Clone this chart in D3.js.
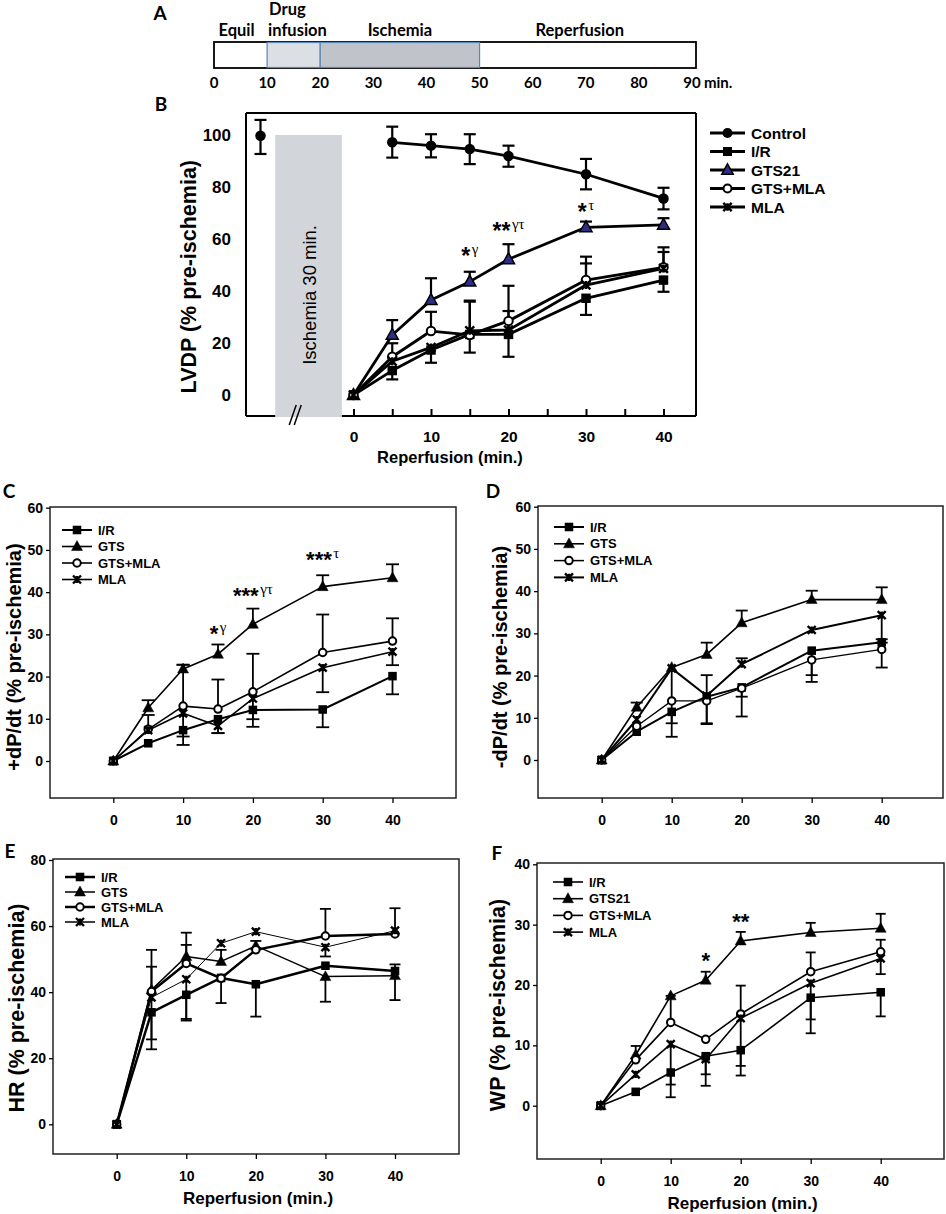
<!DOCTYPE html>
<html><head><meta charset="utf-8">
<script src="https://cdn.jsdelivr.net/npm/d3@7"></script>
<style>body{margin:0;background:#fff}svg{display:block}</style>
</head><body>
<svg id="fig" width="946" height="1214"></svg>
<script>
// ================= DATA =================
// Panel A : protocol timeline (minutes)
const timelineTicks = [0,10,20,30,40,50,60,70,80,90];
const phaseStart = [0,10,20,50];
const phaseEnd   = [10,20,50,90];

// common reperfusion times (min)
const times = [0,5,10,15,20,30,40];
const timesControl = [5,10,15,20,30,40];
const preTime = -12;            // pre-ischemic baseline point (left of break)
const ischemiaSpan = [-10.1,-1.5]; // shaded ischemia box on B's axis
const ischemiaTop = 100;

// Panel B : LVDP (% pre-ischemia)
const lvdpControlPre = [99.7], lvdpControlPreUp = [6.1], lvdpControlPreDn = [7.0];
const lvdpControl   = [97.2, 95.9, 94.6, 91.9, 84.9, 75.6];
const lvdpControlUp = [6.0, 4.4, 5.7, 4.0, 5.9, 4.1];
const lvdpControlDn = [5.9, 4.5, 5.8, 4.1, 5.8, 4.2];
const lvdpIR     = [0, 9.4, 17.3, 23.3, 23.3, 37.2, 44.2];
const lvdpIRUp   = [0, 0, 0, 0, 0, 0, 0];
const lvdpIRDn   = [0, 3.4, 4.9, 7.0, 8.6, 6.4, 4.5];
const lvdpGTS    = [0, 23.1, 36.5, 43.6, 52.2, 64.5, 65.4];
const lvdpGTSUp  = [0, 5.7, 8.4, 3.8, 5.8, 2.2, 2.6];
const lvdpGTSDn  = [0, 0, 0, 0, 0, 0, 0];
const lvdpGM     = [0, 14.7, 24.6, 23.1, 28.5, 44.2, 49.1];
const lvdpGMUp   = [0, 5.2, 7.4, 12.8, 13.5, 9.0, 7.7];
const lvdpGMDn   = [0, 0, 0, 0, 0, 0, 0];
const lvdpMLA    = [0, 13.0, 18.3, 24.7, 25.0, 42.3, 48.7];
const lvdpMLAUp  = [0, 0, 0, 11.6, 7.3, 8.3, 6.3];
const lvdpMLADn  = [0, 0, 0, 0, 0, 0, 0];
const lvdpNotes  = [{t:15, v:55, s:"*", g:"γ"}, {t:20, v:64.6, s:"**", g:"γτ"}, {t:30, v:71.9, s:"*", g:"τ"}];

// Panel C : +dP/dt
const pdIR    = [0, 4.2, 7.3, 9.9, 12.1, 12.2, 20.1];
const pdIRUp  = [0, 0, 0, 0, 0, 0, 0];
const pdIRDn  = [0, 0, 3.5, 3.3, 4.0, 4.2, 4.3];
const pdGTS   = [0, 12.6, 21.8, 25.3, 32.4, 41.3, 43.4];
const pdGTSUp = [0, 1.8, 1.0, 2.3, 3.7, 2.7, 3.2];
const pdGTSDn = [0, 0, 0, 0, 0, 0, 0];
const pdGM    = [0, 7.5, 13.0, 12.3, 16.4, 25.7, 28.4];
const pdGMUp  = [0, 3.4, 9.8, 7.0, 9.0, 9.0, 5.4];
const pdGMDn  = [0, 0, 0, 0, 0, 0, 0];
const pdMLA   = [0, 7.3, 11.3, 8.3, 14.8, 22.1, 25.9];
const pdMLAUp = [0, 0, 0, 0, 0, 0, 0];
const pdMLADn = [0, 0, 5.5, 1.7, 4.9, 5.8, 3.2];
const pdNotes = [{t:15, v:31, s:"*", g:"γ"}, {t:20, v:40, s:"***", g:"γτ"}, {t:30, v:48.6, s:"***", g:"τ"}];

// Panel D : -dP/dt
const ndIR    = [0, 6.7, 11.4, 15.0, 17.2, 25.9, 27.9];
const ndIRUp  = [0, 0, 0, 0, 0, 0, 0];
const ndIRDn  = [0, 0, 5.9, 6.3, 6.9, 5.8, 6.0];
const ndGTS   = [0, 12.5, 21.9, 25.0, 32.5, 38.0, 38.0];
const ndGTSUp = [0, 1.1, 0, 2.8, 2.9, 2.1, 2.9];
const ndGTSDn = [0, 0, 0, 0, 0, 0, 0];
const ndGM    = [0, 8.0, 14.0, 14.0, 17.0, 23.7, 26.2];
const ndGMUp  = [0, 0, 0, 0, 0, 0, 2.4];
const ndGMDn  = [0, 0, 0, 5.5, 2.0, 5.2, 0];
const ndMLA   = [0, 9.6, 21.7, 15.2, 22.7, 30.8, 34.3];
const ndMLAUp = [0, 0, 0, 4.9, 1.4, 0, 0];
const ndMLADn = [0, 0, 13.0, 0, 0, 0, 6.5];

// Panel E : HR
const hrIR    = [0, 33.9, 39.2, 44.3, 42.4, 48.0, 46.4];
const hrIRUp  = [0, 0, 0, 0, 0, 0, 2.0];
const hrIRDn  = [0, 11.2, 7.8, 0, 9.8, 0, 0];
const hrGTS   = [0, 40.7, 50.8, 49.3, 54.0, 44.7, 45.0];
const hrGTSUp = [0, 7.0, 7.2, 3.5, 1.5, 0, 0];
const hrGTSDn = [0, 0, 0, 0, 0, 7.6, 7.4];
const hrGM    = [0, 40.2, 48.7, 44.2, 52.8, 57.0, 57.6];
const hrGMUp  = [0, 12.6, 5.6, 0, 0, 8.2, 0];
const hrGMDn  = [0, 0, 0, 7.5, 0, 0, 0];
const hrMLA   = [0, 38.4, 43.9, 54.8, 58.3, 53.6, 58.6];
const hrMLAUp = [0, 0, 0, 0, 0, 0, 6.8];
const hrMLADn = [0, 12.7, 12.0, 0, 0, 2.8, 0];

// Panel F : WP
const wpIR    = [0, 2.3, 5.5, 8.2, 9.2, 17.9, 18.8];
const wpIRUp  = [0, 0, 0, 0, 0, 0, 0];
const wpIRDn  = [0, 0, 4.1, 3.0, 4.2, 5.9, 4.0];
const wpGTS   = [0, 8.4, 18.2, 20.8, 27.3, 28.7, 29.4];
const wpGTSUp = [0, 1.5, 0, 1.4, 1.5, 1.6, 2.4];
const wpGTSDn = [0, 0, 0, 0, 0, 0, 0];
const wpGM    = [0, 7.6, 13.8, 11.0, 15.2, 22.2, 25.5];
const wpGMUp  = [0, 0, 4.4, 0, 4.7, 3.2, 2.0];
const wpGMDn  = [0, 0, 0, 0, 0, 0, 0];
const wpMLA   = [0, 5.2, 10.2, 7.7, 14.5, 20.3, 24.4];
const wpMLAUp = [0, 0, 0, 0, 0, 0, 0];
const wpMLADn = [0, 0, 6.7, 4.4, 7.9, 6.0, 2.6];
const wpNotes = [{t:15, v:24.7, s:"*", g:""}, {t:20, v:31.1, s:"**", g:""}];

// ================= DRAWING =================
const svg = d3.select("#fig");
const SANS = "'Liberation Sans', Arial, Helvetica, sans-serif";
const CAL = "Lato, 'Open Sans', sans-serif";
const SERIF = "'Liberation Serif', 'Times New Roman', serif";

function drawMarker(g, type, x, y, sz, fill){
  const s = sz;
  if (type === "circle") {
    g.append("circle").attr("cx",x).attr("cy",y).attr("r",s/2).attr("fill","#000");
  } else if (type === "square") {
    g.append("rect").attr("x",x-s*0.45).attr("y",y-s*0.45).attr("width",s*0.9).attr("height",s*0.9).attr("fill","#000");
  } else if (type === "triangle") {
    const h = s*1.0, w = s*1.15;
    g.append("path").attr("d",`M${x},${y-h*0.62} L${x+w/2},${y+h*0.42} L${x-w/2},${y+h*0.42} Z`)
      .attr("fill", fill || "#000").attr("stroke","#000").attr("stroke-width", fill ? 1.5 : 0.5).attr("stroke-linejoin","miter");
  } else if (type === "open") {
    g.append("circle").attr("cx",x).attr("cy",y).attr("r",s/2-1).attr("fill","#fff").attr("stroke","#000").attr("stroke-width",2);
  } else if (type === "x") {
    const h = s*0.42;
    g.append("path").attr("d",`M${x-h},${y-h} L${x+h},${y+h} M${x-h},${y+h} L${x+h},${y-h} M${x},${y-h*0.9} L${x},${y+h*0.9}`)
      .attr("stroke","#000").attr("stroke-width",2.4).attr("fill","none");
  }
}

function errorBars(g, xs, vs, ups, dns, x, y, cap, sw){
  xs.forEach((t,i)=>{
    const px = x(t), py = y(vs[i]);
    [[ups[i],1],[dns[i],-1]].forEach(([e,dir])=>{
      if (!e) return;
      const ey = y(vs[i] + dir*e);
      g.append("line").attr("x1",px).attr("x2",px).attr("y1",py).attr("y2",ey).attr("stroke","#000").attr("stroke-width",sw);
      g.append("line").attr("x1",px-cap).attr("x2",px+cap).attr("y1",ey).attr("y2",ey).attr("stroke","#000").attr("stroke-width",sw);
    });
  });
}

function drawSeries(g, s, x, y, P){
  const pts = s.t.map((t,i)=>[t, s.v[i]]);
  g.append("path").attr("d", d3.line().x(d=>x(d[0])).y(d=>y(d[1]))(pts))
    .attr("fill","none").attr("stroke","#000").attr("stroke-width", s.lw).attr("stroke-linejoin","round");
  errorBars(g, s.t, s.v, s.up, s.dn, x, y, P.cap, P.esw);
}
function drawMarkers(g, s, x, y, P){
  s.t.forEach((t,i)=> drawMarker(g, s.m, x(t), y(s.v[i]), P.msz, s.fill));
}

function legend(g, series, P){
  series.forEach((s,i)=>{
    const yy = P.legY + i*P.legDy;
    g.append("line").attr("x1",P.legX).attr("x2",P.legX+P.legLen).attr("y1",yy).attr("y2",yy)
      .attr("stroke","#000").attr("stroke-width", Math.max(1.5, s.lw));
    drawMarker(g, s.m, P.legX+P.legLen/2, yy, P.legMsz, s.fill);
    g.append("text").attr("x",P.legX+P.legLen+P.legGap).attr("y",yy).attr("dy","0.36em")
      .attr("font-family",SANS).attr("font-weight","bold").attr("font-size",P.legFs).text(s.name);
  });
}

function notes(g, arr, x, y, fs, gfs){
  arr.forEach(n=>{
    const t = g.append("text").attr("x",x(n.t)).attr("y",y(n.v)).attr("dy","0.5em")
      .attr("text-anchor","middle").attr("font-family",SANS).attr("font-weight","bold").attr("font-size",fs);
    t.append("tspan").text(n.s);
    if (n.g) t.append("tspan").attr("font-family",SERIF).attr("font-weight","normal")
      .attr("font-size",gfs).attr("dy","-0.62em").attr("dx","1.5").text(n.g);
  });
}

function panelLetter(x, y, txt){
  svg.append("text").attr("x",x).attr("y",y).attr("dy","0.36em").attr("text-anchor","middle")
    .attr("font-family",CAL).attr("font-weight","bold").attr("font-size",19).text(txt);
}

// ---------- Panel A ----------
(function(){
  const xA = d3.scaleLinear().domain([0,90]).range([214,692]);
  const g = svg.append("g");
  const yTop = 42, yBot = 68;
  g.append("rect").attr("x",xA(0)).attr("y",yTop).attr("width",xA(90)-xA(0)+4).attr("height",yBot-yTop)
    .attr("fill","#fff").attr("stroke","#000").attr("stroke-width",1.8);
  const fills = [null, "#dcdfe3", "#c0c4ca", null];
  phaseStart.forEach((s,i)=>{
    if (!fills[i]) return;
    g.append("rect").attr("x",xA(s)).attr("y",yTop+0.5).attr("width",xA(phaseEnd[i])-xA(s)).attr("height",yBot-yTop-1)
      .attr("fill",fills[i]).attr("stroke","#5b85b3").attr("stroke-width",1.2);
  });
  const lab = (x,y,t,anchor)=> g.append("text").attr("x",x).attr("y",y).attr("text-anchor",anchor||"middle")
      .attr("font-family",CAL).attr("font-weight","bold").attr("font-size",16.5).text(t);
  lab(xA(5)-4, 36, "Equil");
  lab(xA(10)+2, 15, "Drug", "start");
  lab(xA(10)+1, 36, "infusion", "start");
  lab(xA(35), 36, "Ischemia");
  lab(xA(70)-6, 36, "Reperfusion");
  timelineTicks.forEach(t=>{
    g.append("text").attr("x",xA(t)).attr("y",88).attr("text-anchor","middle")
      .attr("font-family",CAL).attr("font-weight","bold").attr("font-size",15).text(t);
  });
  g.append("text").attr("x",xA(90)+12).attr("y",88).attr("font-family",CAL).attr("font-weight","bold")
    .attr("font-size",15).text("min.");
  panelLetter(160, 13, "A");
})();

// ---------- Panel B ----------
(function(){
  const F = {x0:246, x1:696, y0:113, y1:416};
  const x = d3.scaleLinear().domain([0,40]).range([353.5,663.5]);
  const y = d3.scaleLinear().domain([0,100]).range([395,135]);
  const g = svg.append("g");
  // ischemia box
  g.append("rect").attr("x",x(ischemiaSpan[0])).attr("y",y(ischemiaTop))
    .attr("width",x(ischemiaSpan[1])-x(ischemiaSpan[0])).attr("height",F.y1-y(ischemiaTop)+1).attr("fill","#d2d5da");
  g.append("text").attr("transform",`translate(${x((ischemiaSpan[0]+ischemiaSpan[1])/2)+1},${y(38.5)}) rotate(-90)`)
    .attr("text-anchor","middle").attr("dy","0.36em").attr("font-family",SANS).attr("font-size",18.5).text("Ischemia 30 min.");
  // frame
  g.append("line").attr("x1",F.x0).attr("x2",F.x1).attr("y1",F.y0).attr("y2",F.y0).attr("stroke","#000").attr("stroke-width",2);
  g.append("line").attr("x1",F.x0).attr("x2",F.x0).attr("y1",F.y0).attr("y2",F.y1).attr("stroke","#000").attr("stroke-width",2);
  g.append("line").attr("x1",F.x1).attr("x2",F.x1).attr("y1",F.y0).attr("y2",F.y1).attr("stroke","#000").attr("stroke-width",2);
  g.append("line").attr("x1",F.x0).attr("x2",x(ischemiaSpan[0])).attr("y1",F.y1).attr("y2",F.y1).attr("stroke","#000").attr("stroke-width",2);
  g.append("line").attr("x1",x(ischemiaSpan[1])).attr("x2",F.x1).attr("y1",F.y1).attr("y2",F.y1).attr("stroke","#000").attr("stroke-width",2);
  // break marks
  const bx = x(ischemiaSpan[0]) + 14;
  [0,5].forEach(o=> g.append("line").attr("x1",bx+o).attr("y1",F.y1+9).attr("x2",bx+o+7).attr("y2",F.y1-11)
      .attr("stroke","#000").attr("stroke-width",1.5));
  // x axis (ticks inward)
  const ax = g.append("g").attr("transform",`translate(0,${F.y1})`)
    .call(d3.axisBottom(x).tickValues(d3.range(0,41,5)).tickSizeInner(-7).tickSizeOuter(0).tickPadding(15)
      .tickFormat(d=> d%10===0 ? d : ""));
  ax.select(".domain").remove();
  ax.selectAll("line").attr("stroke-width",2);
  ax.selectAll("text").attr("font-family",SANS).attr("font-weight","bold").attr("font-size",15.5).attr("fill","#000");
  const ay = g.append("g").attr("transform",`translate(${F.x0},0)`)
    .call(d3.axisLeft(y).tickValues([0,20,40,60,80,100]).tickSize(0).tickPadding(15));
  ay.select(".domain").remove();
  ay.selectAll("text").attr("font-family",SANS).attr("font-weight","bold").attr("font-size",17).attr("fill","#000");
  g.append("text").attr("x",450).attr("y",457).attr("dy","0.36em").attr("text-anchor","middle")
    .attr("font-family",SANS).attr("font-weight","bold").attr("font-size",16.5).text("Reperfusion (min.)");
  g.append("text").attr("transform",`translate(188,${y(45.5)}) rotate(-90)`).attr("text-anchor","middle").attr("dy","0.36em")
    .attr("font-family",SANS).attr("font-weight","bold").attr("font-size",21.5).text("LVDP (% pre-ischemia)");

  const P = {cap:6, esw:2.2, msz:10.5};
  const series = [
    {name:"Control", m:"circle", t:timesControl, v:lvdpControl, up:lvdpControlUp, dn:lvdpControlDn, lw:2.8},
    {name:"I/R", m:"square", t:times, v:lvdpIR, up:lvdpIRUp, dn:lvdpIRDn, lw:2.8},
    {name:"GTS21", m:"triangle", fill:"#2c2f86", t:times, v:lvdpGTS, up:lvdpGTSUp, dn:lvdpGTSDn, lw:2.8},
    {name:"GTS+MLA", m:"open", t:times, v:lvdpGM, up:lvdpGMUp, dn:lvdpGMDn, lw:2.8},
    {name:"MLA", m:"x", t:times, v:lvdpMLA, up:lvdpMLAUp, dn:lvdpMLADn, lw:2.8}
  ];
  series.forEach(s=>drawSeries(g,s,x,y,P));
  errorBars(g,[preTime],lvdpControlPre,lvdpControlPreUp,lvdpControlPreDn,x,y,P.cap,P.esw);
  series.forEach(s=>drawMarkers(g,s,x,y,P));
  drawMarker(g,"circle",x(preTime),y(lvdpControlPre[0]),P.msz);
  notes(g, lvdpNotes, x, y, 23, 15);
  legend(g, series, {legX:710, legLen:35, legGap:6, legY:133, legDy:18.5, legMsz:10, legFs:15.5});
  panelLetter(161, 104, "B");
})();

// ---------- Generic panels C-F ----------
function smallPanel(cfg){
  const g = svg.append("g");
  const F = cfg.frame;
  const x = d3.scaleLinear().domain([0,40]).range(cfg.xr);
  const y = d3.scaleLinear().domain([0,cfg.ymax]).range(cfg.yr);
  g.append("rect").attr("x",F.x0).attr("y",F.y0).attr("width",F.x1-F.x0).attr("height",F.y1-F.y0)
    .attr("fill","none").attr("stroke","#222").attr("stroke-width",1.5);
  const ax = g.append("g").attr("transform",`translate(0,${F.y1})`)
    .call(d3.axisBottom(x).tickValues([0,10,20,30,40]).tickSizeInner(5).tickSizeOuter(0).tickPadding(12));
  ax.select(".domain").remove();
  ax.selectAll("line").attr("stroke-width",1.3);
  ax.selectAll("text").attr("font-family",SANS).attr("font-weight","bold").attr("font-size",14).attr("fill","#000");
  const ay = g.append("g").attr("transform",`translate(${F.x0},0)`)
    .call(d3.axisLeft(y).tickValues(cfg.yticks).tickSizeInner(4).tickSizeOuter(0).tickPadding(3));
  ay.select(".domain").remove();
  ay.selectAll("line").attr("stroke-width",1.3);
  ay.selectAll("text").attr("font-family",SANS).attr("font-weight","bold").attr("font-size",14).attr("fill","#000");
  g.append("text").attr("transform",`translate(${cfg.ylabX},${cfg.ylabY}) rotate(-90)`).attr("text-anchor","middle").attr("dy","0.36em")
    .attr("font-family",SANS).attr("font-weight","bold").attr("font-size",cfg.ylabFs).text(cfg.ylab);
  if (cfg.xlab) g.append("text").attr("x",(F.x0+F.x1)/2+2).attr("y",F.y1+44).attr("dy","0.36em").attr("text-anchor","middle")
    .attr("font-family",SANS).attr("font-weight","bold").attr("font-size",17).text(cfg.xlab);
  const P = {cap:cfg.cap, esw:1.8, msz:cfg.msz};
  cfg.series.forEach(s=>drawSeries(g,s,x,y,P));
  cfg.series.forEach(s=>drawMarkers(g,s,x,y,P));
  if (cfg.notes) notes(g, cfg.notes, x, y, cfg.noteFs, 15);
  legend(g, cfg.series, {legX:F.x0+cfg.legOff[0], legLen:30, legGap:6, legY:F.y0+cfg.legOff[1], legDy:cfg.legDy, legMsz:cfg.msz, legFs:13});
  panelLetter(cfg.letter[0], cfg.letter[1], cfg.letter[2]);
}

const names4 = ["I/R","GTS","GTS+MLA","MLA"];
function mk(names, arrs, lws){
  const ms = ["square","triangle","open","x"];
  return names.map((n,i)=>({name:n, m:ms[i], t:times, v:arrs[i][0], up:arrs[i][1], dn:arrs[i][2], lw:lws[i]}));
}

smallPanel({frame:{x0:50,x1:456,y0:507,y1:798}, xr:[113.3,392.5], ymax:60, yr:[761,507.7], yticks:[0,10,20,30,40,50,60],
  ylab:"+dP/dt (% pre-ischemia)", ylabX:14, ylabY:657, ylabFs:20, cap:6.5, msz:9.5,
  series: mk(names4, [[pdIR,pdIRUp,pdIRDn],[pdGTS,pdGTSUp,pdGTSDn],[pdGM,pdGMUp,pdGMDn],[pdMLA,pdMLAUp,pdMLADn]], [2,1.6,1.6,1.6]),
  notes: pdNotes, noteFs:22, legOff:[12,23], legDy:16.5, letter:[9,491,"C"]});

smallPanel({frame:{x0:538,x1:943,y0:506,y1:798}, xr:[601.7,881.7], ymax:60, yr:[760,506.7], yticks:[0,10,20,30,40,50,60],
  ylab:"-dP/dt (% pre-ischemia)", ylabX:500, ylabY:657, ylabFs:20, cap:6, msz:9.5,
  series: mk(names4, [[ndIR,ndIRUp,ndIRDn],[ndGTS,ndGTSUp,ndGTSDn],[ndGM,ndGMUp,ndGMDn],[ndMLA,ndMLAUp,ndMLADn]], [2,1.6,1.3,2]),
  legOff:[16,21], legDy:16.8, letter:[493,491,"D"]});

smallPanel({frame:{x0:53,x1:459,y0:859,y1:1154}, xr:[116.7,395], ymax:80, yr:[1124.3,860], yticks:[0,20,40,60,80],
  ylab:"HR (% pre-ischemia)", ylabX:16, ylabY:1008, ylabFs:21.5, cap:5.5, msz:9.5, xlab:"Reperfusion (min.)",
  series: mk(names4, [[hrIR,hrIRUp,hrIRDn],[hrGTS,hrGTSUp,hrGTSDn],[hrGM,hrGMUp,hrGMDn],[hrMLA,hrMLAUp,hrMLADn]], [2.5,1.5,2.5,1]),
  legOff:[12,18], legDy:15, letter:[10,851,"E"]});

smallPanel({frame:{x0:537,x1:944,y0:863,y1:1159}, xr:[600.7,880.7], ymax:40, yr:[1105.7,864.3], yticks:[0,10,20,30,40],
  ylab:"WP (% pre-ischemia)", ylabX:497, ylabY:1005, ylabFs:21.5, cap:5, msz:9.5, xlab:"Reperfusion (min.)",
  series: mk(["I/R","GTS21","GTS+MLA","MLA"], [[wpIR,wpIRUp,wpIRDn],[wpGTS,wpGTSUp,wpGTSDn],[wpGM,wpGMUp,wpGMDn],[wpMLA,wpMLAUp,wpMLADn]], [1.6,1.6,1.6,1.6]),
  notes: wpNotes, noteFs:22, legOff:[16,19], legDy:16.7, letter:[497,853,"F"]});
</script>
</body></html>
